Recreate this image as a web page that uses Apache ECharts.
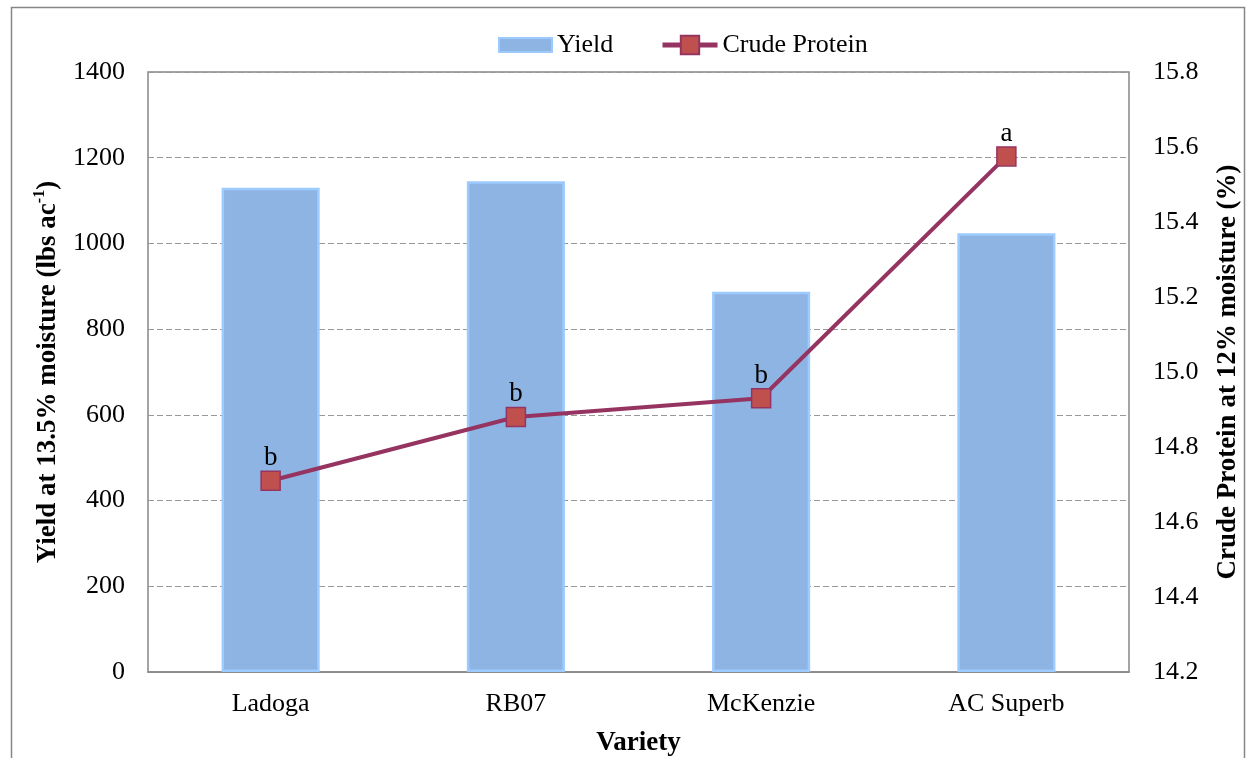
<!DOCTYPE html>
<html>
<head>
<meta charset="utf-8">
<script src="https://cdn.jsdelivr.net/npm/echarts@6/dist/echarts.min.js"></script>
<style>
html,body{margin:0;padding:0;background:#fff;}
#c{width:1254px;height:758px;}
</style>
</head>
<body>
<div id="c"></div>
<script>
const categories = ['Ladoga', 'RB07', 'McKenzie', 'AC Superb'];
const yieldValues = [1130, 1145, 887, 1024];
const proteinValues = [14.71, 14.88, 14.93, 15.575];
const letters = ['b', 'b', 'b', 'a'];
const leftTicks = {min: 0, max: 1400, interval: 200};
const rightTicks = {min: 14.2, max: 15.8, interval: 0.2};

const FONT = '"Liberation Serif", "Times New Roman", serif';
const LINE_COLOR = '#953461';
const chart = echarts.init(document.getElementById('c'));
chart.setOption({
  animation: false,
  backgroundColor: '#fff',
  textStyle: {fontFamily: FONT, color: '#000'},
  graphic: [{
    type: 'rect', silent: true, z: -10,
    shape: {x: 11.5, y: 7.5, width: 1233, height: 800},
    style: {fill: 'none', stroke: '#868686', lineWidth: 1.5}
  }],
  legend: [{
    left: 498, top: 31, padding: 0,
    itemWidth: 53, itemHeight: 14,
    textStyle: {fontFamily: FONT, fontSize: 26, lineHeight: 28, color: '#000'},
    data: [{name: 'Yield', icon: 'rect'}]
  }, {
    left: 660, top: 31, padding: 0,
    itemWidth: 55, itemHeight: 23,
    textStyle: {fontFamily: FONT, fontSize: 26, lineHeight: 28, color: '#000'},
    data: [{name: 'Crude Protein', lineStyle: {width: 5, color: LINE_COLOR}}]
  }],
  grid: {left: 148, top: 72, right: 125, bottom: 86, show: true, borderColor: '#868686', borderWidth: 1.5, backgroundColor: 'transparent', containLabel: false, outerBoundsMode: 'none'},
  xAxis: {
    type: 'category',
    data: categories,
    axisTick: {show: false},
    axisLine: {show: true, lineStyle: {color: '#868686', width: 1.5}},
    axisLabel: {fontFamily: FONT, fontSize: 26, color: '#000', margin: 19},
    name: 'Variety',
    nameLocation: 'middle',
    nameGap: 58,
    nameTextStyle: {fontFamily: FONT, fontSize: 27, fontWeight: 'bold', color: '#000'}
  },
  yAxis: [{
    type: 'value',
    min: leftTicks.min, max: leftTicks.max, interval: leftTicks.interval,
    axisLine: {show: false},
    axisTick: {show: false},
    axisLabel: {fontFamily: FONT, fontSize: 26, color: '#000', margin: 23, formatter: v => String(v)},
    splitLine: {show: true, lineStyle: {color: '#999', type: [6, 3], width: 1}},
    name: '{t|Yield at 13.5% moisture (lbs ac}{s|-1}{t|)}',
    nameLocation: 'middle',
    nameGap: 84,
    nameTextStyle: {
      fontFamily: FONT, fontSize: 27, fontWeight: 'bold', color: '#000',
      rich: {
        t: {fontFamily: FONT, fontSize: 27, fontWeight: 'bold', color: '#000', lineHeight: 32},
        s: {fontFamily: FONT, fontSize: 16, fontWeight: 'bold', color: '#000', verticalAlign: 'top', lineHeight: 32, padding: [0, 0, 10, 0]}
      }
    }
  }, {
    type: 'value',
    position: 'right',
    min: rightTicks.min, max: rightTicks.max, interval: rightTicks.interval,
    axisLine: {show: false},
    axisTick: {show: false},
    splitLine: {show: false},
    axisLabel: {fontFamily: FONT, fontSize: 26, color: '#000', margin: 24, formatter: v => v.toFixed(1)},
    name: 'Crude Protein at 12% moisture (%)',
    nameLocation: 'middle',
    nameGap: 86,
    nameTextStyle: {fontFamily: FONT, fontSize: 27, fontWeight: 'bold', color: '#000'}
  }],
  series: [{
    name: 'Yield',
    type: 'bar',
    data: yieldValues,
    barWidth: '40%',
    itemStyle: {color: '#8EB4E3', borderColor: '#9DCBFF', borderWidth: 2.5}
  }, {
    name: 'Crude Protein',
    type: 'line',
    yAxisIndex: 1,
    data: proteinValues,
    symbol: 'rect',
    symbolSize: 19,
    lineStyle: {color: LINE_COLOR, width: 4},
    itemStyle: {color: '#C0504D', borderColor: LINE_COLOR, borderWidth: 1.5},
    label: {
      show: true, position: 'top', distance: -1,
      fontFamily: FONT, fontSize: 27, color: '#000',
      formatter: p => letters[p.dataIndex]
    }
  }]
});
</script>
</body>
</html>
